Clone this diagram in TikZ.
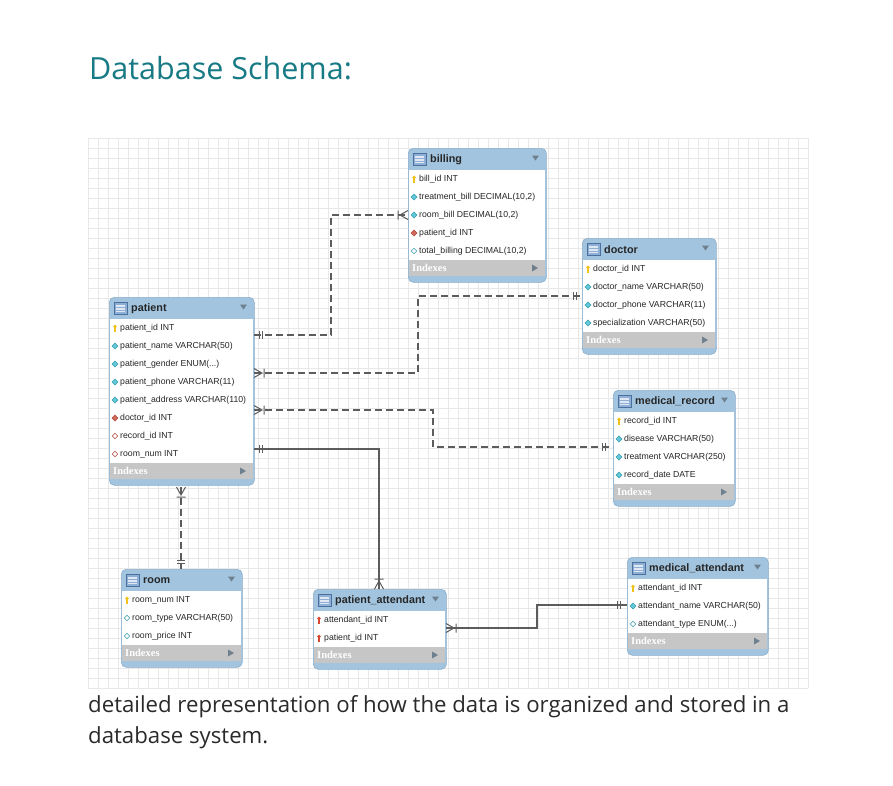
\documentclass[tikz,border=0pt]{standalone}
\usepackage{fontspec}
\setmainfont{Open Sans}
\newfontfamily\tblfont{Liberation Sans}
\newfontfamily\idxfont{Liberation Serif}
\definecolor{titlec}{HTML}{177A84}
\definecolor{bodyc}{HTML}{2A2A2A}
\definecolor{gridc}{HTML}{E8E8E8}
\definecolor{hdrblue}{HTML}{A2C4DF}
\definecolor{tblborder}{HTML}{8AAECB}
\definecolor{idxgray}{HTML}{C6C6C6}
\definecolor{tric}{HTML}{6E7F8E}
\definecolor{linec}{HTML}{5C5C5C}
\definecolor{keyy}{HTML}{EEC21A}
\definecolor{keyr}{HTML}{D9472F}
\definecolor{dcyan}{HTML}{62C9D8}
\definecolor{dcyand}{HTML}{3A9DB0}
\definecolor{dred}{HTML}{D26A5C}
\definecolor{dredd}{HTML}{B04A3E}
\definecolor{iconb}{HTML}{5E8CC4}
\usetikzlibrary{calc}
\tikzset{
  tbl/.style={draw=tblborder, fill=hdrblue, rounded corners=5pt, anchor=north west, inner sep=0pt, line width=0.6pt},
  hdrtxt/.style={anchor=west, inner sep=0pt, font=\tblfont\bfseries\fontsize{10.8}{12}\selectfont, text=black!85},
  rowtxt/.style={anchor=west, inner sep=0pt, font=\tblfont\fontsize{8.7}{10}\selectfont, text=black!85},
  idxtxt/.style={anchor=west, inner sep=0pt, font=\idxfont\bfseries\fontsize{10.5}{11}\selectfont, text=white},
  conn/.style={draw=linec, line width=1.2pt},
  dconn/.style={conn, dash pattern=on 7pt off 4pt},
  mk/.style={draw=linec, line width=1pt}
}
\newcommand\iconk[2]{\fill[keyy] (#1,#2-1.6) circle (1.9); \fill[keyy] (#1-0.7,#2-1) rectangle (#1+0.7,#2+3.6);}
\newcommand\iconr[2]{\fill[keyr] (#1,#2-1.6) circle (1.9); \fill[keyr] (#1-0.7,#2-1) rectangle (#1+0.7,#2+3.6);}
\newcommand\iconc[2]{\filldraw[fill=dcyan, draw=dcyand, line width=0.4pt] (#1,#2-3) -- (#1+3,#2) -- (#1,#2+3) -- (#1-3,#2) -- cycle;}
\newcommand\iconf[2]{\filldraw[fill=dred, draw=dredd, line width=0.4pt] (#1,#2-3) -- (#1+3,#2) -- (#1,#2+3) -- (#1-3,#2) -- cycle;}
\newcommand\icono[2]{\filldraw[fill=white, draw=dcyand, line width=0.5pt] (#1,#2-2.7) -- (#1+2.7,#2) -- (#1,#2+2.7) -- (#1-2.7,#2) -- cycle;}
\newcommand\iconp[2]{\filldraw[fill=white, draw=dredd, line width=0.5pt] (#1,#2-2.7) -- (#1+2.7,#2) -- (#1,#2+2.7) -- (#1-2.7,#2) -- cycle;}
\newcommand\dotsE{.{}.{}.}
% #1 name, #2 x, #3 y, #4 width, #5 title, #6 rows, #7 number of rows
\newcommand\erd[7]{%
  \pgfmathsetmacro\hh{44+18*#7}%
  \pgfmathsetmacro\re{#3+22+18*#7}%
  \node[tbl, minimum width=#4, minimum height=\hh, name=#1] at (#2,#3) {};
  \fill[white] (#2+0.8,#3+22) rectangle (#2+#4-0.8,\re);
  \fill[idxgray] (#2+0.8,\re) rectangle (#2+#4-0.8,\re+16);
  \filldraw[fill=iconb!70, draw=iconb!80!black, line width=0.5pt] (#2+5,#3+5) rectangle (#2+18,#3+17);
  \fill[white!80!iconb] (#2+7,#3+8) rectangle (#2+16,#3+15);
  \draw[iconb!70, line width=0.4pt] (#2+7,#3+10.5) -- (#2+16,#3+10.5) (#2+7,#3+13) -- (#2+16,#3+13);
  \node[hdrtxt, name=#1-t] at (#2+22,#3+11.5) {#5};
  \fill[tric] (#2+#4-14,#3+7.5) -- (#2+#4-7,#3+7.5) -- (#2+#4-10.5,#3+12.5) -- cycle;
  \node[idxtxt, name=#1-ix] at (#2+4,\re+8) {Indexes};
  \fill[tric] (#2+#4-14,\re+4.5) -- (#2+#4-14,\re+11.5) -- (#2+#4-8,\re+8) -- cycle;
  \foreach \t/\s [count=\i] in {#6} {
    \pgfmathsetmacro\cy{#3+31+18*(\i-1)}
    \csname icon\t\endcsname{#2+6}{\cy}
    \node[rowtxt, name=#1-r\i] at (#2+11,\cy) {\s};
  }
}
\begin{document}
\begin{tikzpicture}[x=1pt,y=-1pt]
\useasboundingbox (0,0) rectangle (893,785);
\fill[white] (0,0) rectangle (893,785);
% grid
\foreach \gx in {88,98,...,808} {\draw[gridc, line width=0.5pt] (\gx,138) -- (\gx,688);}
\foreach \gy in {138,148,...,688} {\draw[gridc, line width=0.5pt] (88,\gy) -- (808,\gy);}
% texts
\node[anchor=base west, inner sep=0pt, text=titlec, font=\fontsize{30.5}{36}\selectfont] (title) at (89,79) {Database Schema:};
\node[anchor=base west, inner sep=0pt, text=bodyc, font=\fontsize{22.2}{30}\selectfont] (line1) at (88,712) {detailed representation of how the data is organized and stored in a};
\node[anchor=base west, inner sep=0pt, text=bodyc, font=\fontsize{22.2}{30}\selectfont] (line2) at (88,743) {database system.};
% tables
\erd{billing}{408}{148}{138}{billing}{k/bill\_id INT, c/treatment\_bill DECIMAL(10{,}2), c/room\_bill DECIMAL(10{,}2), f/patient\_id INT, o/total\_billing DECIMAL(10{,}2)}{5}
\erd{doctor}{582}{238}{134}{doctor}{k/doctor\_id INT, c/doctor\_name VARCHAR(50), c/doctor\_phone VARCHAR(11), c/specialization VARCHAR(50)}{4}
\erd{patient}{109}{297}{145}{patient}{k/patient\_id INT, c/patient\_name VARCHAR(50), c/patient\_gender ENUM(\dotsE), c/patient\_phone VARCHAR(11), c/patient\_address VARCHAR(110), f/doctor\_id INT, p/record\_id INT, p/room\_num INT}{8}
\erd{medrec}{613}{390}{122}{medical\_record}{k/record\_id INT, c/disease VARCHAR(50), c/treatment VARCHAR(250), c/record\_date DATE}{4}
\erd{room}{121}{569}{121}{room}{k/room\_num INT, o/room\_type VARCHAR(50), o/room\_price INT}{3}
\erd{patatt}{313}{589}{133}{patient\_attendant}{r/attendant\_id INT, r/patient\_id INT}{2}
\erd{medatt}{627}{557}{141}{medical\_attendant}{k/attendant\_id INT, c/attendant\_name VARCHAR(50), o/attendant\_type ENUM(\dotsE)}{3}
% connector 1: patient - billing
\coordinate (b1) at (254,335); \coordinate (k1) at (331,215); \coordinate (b2) at (408,215);
\draw[dconn] (b1) -| (k1) -- (b2);
\draw[mk] (b1) ++(5,-4) -- ++(0,8) (b1) ++(8,-4) -- ++(0,8);
\draw[mk] (b2) ++(0,-4.5) -- ++(-8,4.5) -- ++(8,4.5) (b2) ++(-10,-4.5) -- ++(0,9);
% connector 2: patient - doctor
\coordinate (d1) at (254,373); \coordinate (k2) at (418,296); \coordinate (d2) at (582,296);
\draw[dconn] (d1) -| (k2) -- (d2);
\draw[mk] (d1) ++(0,-4.5) -- ++(8,4.5) -- ++(-8,4.5) (d1) ++(10,-4.5) -- ++(0,9);
\draw[mk] (d2) ++(-6,-4) -- ++(0,8) (d2) ++(-9,-4) -- ++(0,8);
% connector 3: patient - medical_record
\coordinate (m1) at (254,410); \coordinate (k3) at (433,447); \coordinate (m2) at (613,447);
\draw[dconn] (m1) -| (k3) -- (m2);
\draw[mk] (m1) ++(0,-4.5) -- ++(8,4.5) -- ++(-8,4.5) (m1) ++(10,-4.5) -- ++(0,9);
\draw[mk] (m2) ++(-8,-4) -- ++(0,8) (m2) ++(-11,-4) -- ++(0,8);
% connector 4: patient - patient_attendant
\coordinate (a1) at (254,449); \coordinate (a2) at (379,589);
\draw[conn] (a1) -| (a2);
\draw[mk] (a1) ++(5,-4) -- ++(0,8) (a1) ++(8,-4) -- ++(0,8);
\draw[mk] (a2) ++(-4.5,0) -- ++(4.5,-8) -- ++(4.5,8) (a2) ++(-4.5,-10) -- ++(9,0);
% connector 5: patient - room
\coordinate (r1) at (181,487); \coordinate (r2) at (181,569);
\draw[dconn] (r1) -- (r2);
\draw[mk] (r1) ++(-4.5,0) -- ++(4.5,8) -- ++(4.5,-8) (r1) ++(-4.5,10) -- ++(9,0);
\draw[mk] (r2) ++(-4,-6) -- ++(8,0) (r2) ++(-4,-9) -- ++(8,0);
% connector 6: patient_attendant - medical_attendant
\coordinate (t1) at (446,628); \coordinate (k6) at (537,605); \coordinate (t2) at (627,605);
\draw[conn] (t1) -| (k6) -- (t2);
\draw[mk] (t1) ++(0,-4.5) -- ++(8,4.5) -- ++(-8,4.5) (t1) ++(10,-4.5) -- ++(0,9);
\draw[mk] (t2) ++(-7,-4) -- ++(0,8) (t2) ++(-10,-4) -- ++(0,8);
\end{tikzpicture}
\end{document}
